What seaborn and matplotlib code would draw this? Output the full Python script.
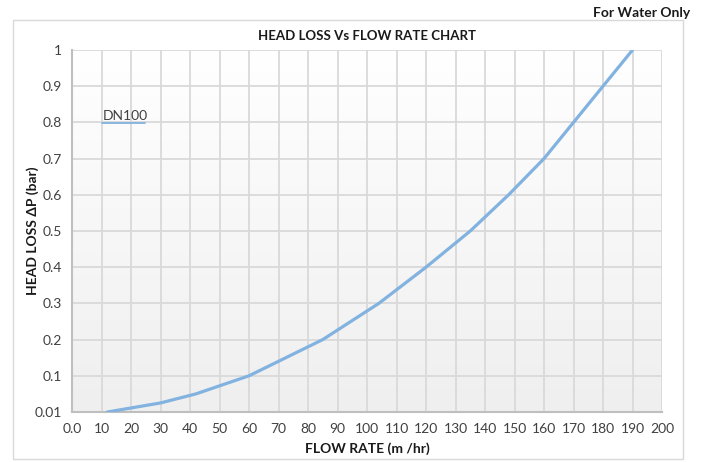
import numpy as np
import pandas as pd
import seaborn as sns
import matplotlib.pyplot as plt
from matplotlib.patches import Rectangle
from matplotlib.lines import Line2D

# data
flow_rate = [12, 30, 42, 60, 85, 104, 120, 135, 148, 160, 170, 180, 190]
head_loss = [0.0, 0.025, 0.05, 0.1, 0.2, 0.3, 0.4, 0.5, 0.6, 0.7, 0.8, 0.9, 1.0]
x_ticks = list(range(0, 201, 10))
x_labels = ['0.0'] + [str(v) for v in x_ticks[1:]]
y_ticks = [0, 0.1, 0.2, 0.3, 0.4, 0.5, 0.6, 0.7, 0.8, 0.9, 1.0]
y_labels = ['0.01', '0.1', '0.2', '0.3', '0.4', '0.5', '0.6', '0.7', '0.8', '0.9', '1']
series_name = 'DN100'

df = pd.DataFrame({'flow': flow_rate, 'head': head_loss})

sns.set_style('white')
plt.rcParams['font.family'] = ['Lato', 'DejaVu Sans']

fig = plt.figure(figsize=(7.06, 4.62), dpi=100)
ax = fig.add_axes([72 / 706, 1 - 412 / 462, 590 / 706, 362 / 462])

# outer chart frame
fig.patches.append(Rectangle((13 / 706, 1 - 459 / 462), 670 / 706, 439 / 462,
                             transform=fig.transFigure, fill=False,
                             edgecolor='#d9d9d9', linewidth=1))

# plot area gradient (white top -> light grey bottom)
grad = np.linspace(1, 0, 256).reshape(-1, 1)
ax.imshow(grad, extent=[0, 1, 0, 1], transform=ax.transAxes, aspect='auto',
          cmap=sns.blend_palette(['#efefef', '#ffffff'], as_cmap=True), zorder=0)

sns.lineplot(data=df, x='flow', y='head', ax=ax, color='#82b2df',
             linewidth=2.3, zorder=3, legend=False)

ax.set_xlim(0, 200)
ax.set_ylim(0, 1)
ax.set_xticks(x_ticks)
ax.set_xticklabels(x_labels)
ax.set_yticks(y_ticks)
ax.set_yticklabels(y_labels)
ax.tick_params(axis='both', labelsize=10, labelcolor='#404040', length=0)
ax.tick_params(axis='x', pad=8)
ax.tick_params(axis='y', pad=7)

ax.set_axisbelow(True)
ax.grid(True, color='#d9d9d9', linewidth=1.3)
for side in ['top', 'right']:
    ax.spines[side].set_visible(False)
for side in ['left', 'bottom']:
    ax.spines[side].set_color('#bfbfbf')
    ax.spines[side].set_linewidth(1.5)

ax.set_xlabel('FLOW RATE (m /hr)', fontsize=10, fontweight='bold', color='#1a1a1a', labelpad=5)
ax.set_ylabel('HEAD LOSS ΔP (bar)', fontsize=10, fontweight='bold', color='#1a1a1a', labelpad=-3)
ax.set_title('HEAD LOSS Vs FLOW RATE CHART', fontsize=9.5, fontweight='bold', color='#1a1a1a', pad=7)

# legend entry (text sitting on its line)
ax.text(0.052, 0.818, series_name, transform=ax.transAxes, fontsize=10,
        color='#404040', va='center', ha='left', zorder=4)
ax.add_line(Line2D([0.051, 0.124], [0.798, 0.798], transform=ax.transAxes,
                   color='#82b2df', linewidth=1.3, zorder=4))

fig.text(690 / 706, 1 - 13 / 462, 'For Water Only', fontsize=10, fontweight='bold',
         color='#1a1a1a', ha='right', va='center')

fig.savefig('out.png', dpi=100)
